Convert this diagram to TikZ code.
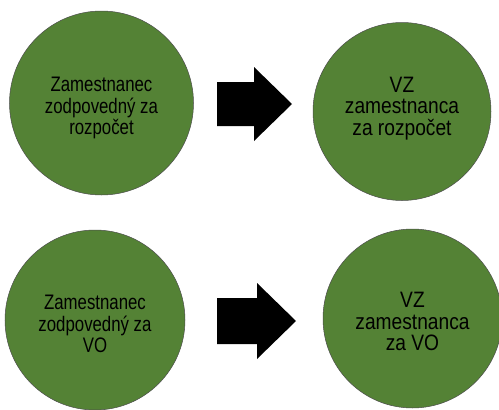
\documentclass[tikz,border=0pt]{standalone}
\usepackage{fontspec}
\newfontfamily\narrowfont[FakeStretch=0.8]{Liberation Sans}
\newfontfamily\widefont[FakeStretch=0.86]{Liberation Sans}
\usetikzlibrary{positioning, calc}
\definecolor{leafgreen}{RGB}{84,130,53}
\tikzstyle{disc} = [circle,draw=black!70,line width=0.5pt,fill=leafgreen,inner sep=0pt]
\tikzstyle{lefttext} = [align=center,inner sep=0pt,font=\narrowfont\fontsize{21}{21.5}\selectfont]
\tikzstyle{righttext} = [align=center,inner sep=0pt,font=\widefont\fontsize{22.3}{21.5}\selectfont]

\begin{document}
\begin{tikzpicture}[x=1pt,y=-1pt]
    \useasboundingbox (0,0) rectangle (499,410);
    \clip (0,0) rectangle (499,410);
   	\node[disc,minimum size=184](c_1) at (101.5,103){};
   	\node[disc,minimum size=178](c_2) at (402,111.5){};
   	\node[disc,minimum size=180](c_3) at (95,320){};
   	\node[disc,minimum size=179](c_4) at (412.5,318.5){};
   	\node[lefttext](t_1) at ([yshift=-5pt]c_1){Zamestnanec\\zodpovedný za\\rozpočet};
   	\node[righttext](t_2) at ([yshift=3pt]c_2){VZ\\zamestnanca\\za rozpočet};
   	\node[lefttext](t_3) at ([yshift=-4pt]c_3){Zamestnanec\\zodpovedný za\\VO};
   	\node[righttext](t_4) at ([yshift=-3pt]c_4){VZ\\zamestnanca\\za VO};
   	\coordinate (a_1) at (254.5,104);
   	\coordinate (a_2) at (256.5,321);
    % block arrows
    \fill[black] (a_1) ++(-37.5,-22) -- ++(37,0) -- ++(0,-15) -- ++(38,37) -- ++(-38,37) -- ++(0,-15) -- ++(-37,0) -- cycle;
    \fill[black] (a_2) ++(-39.5,-23) -- ++(40,0) -- ++(0,-15) -- ++(39,38) -- ++(-39,38) -- ++(0,-15) -- ++(-40,0) -- cycle;
\end{tikzpicture}
\end{document}
